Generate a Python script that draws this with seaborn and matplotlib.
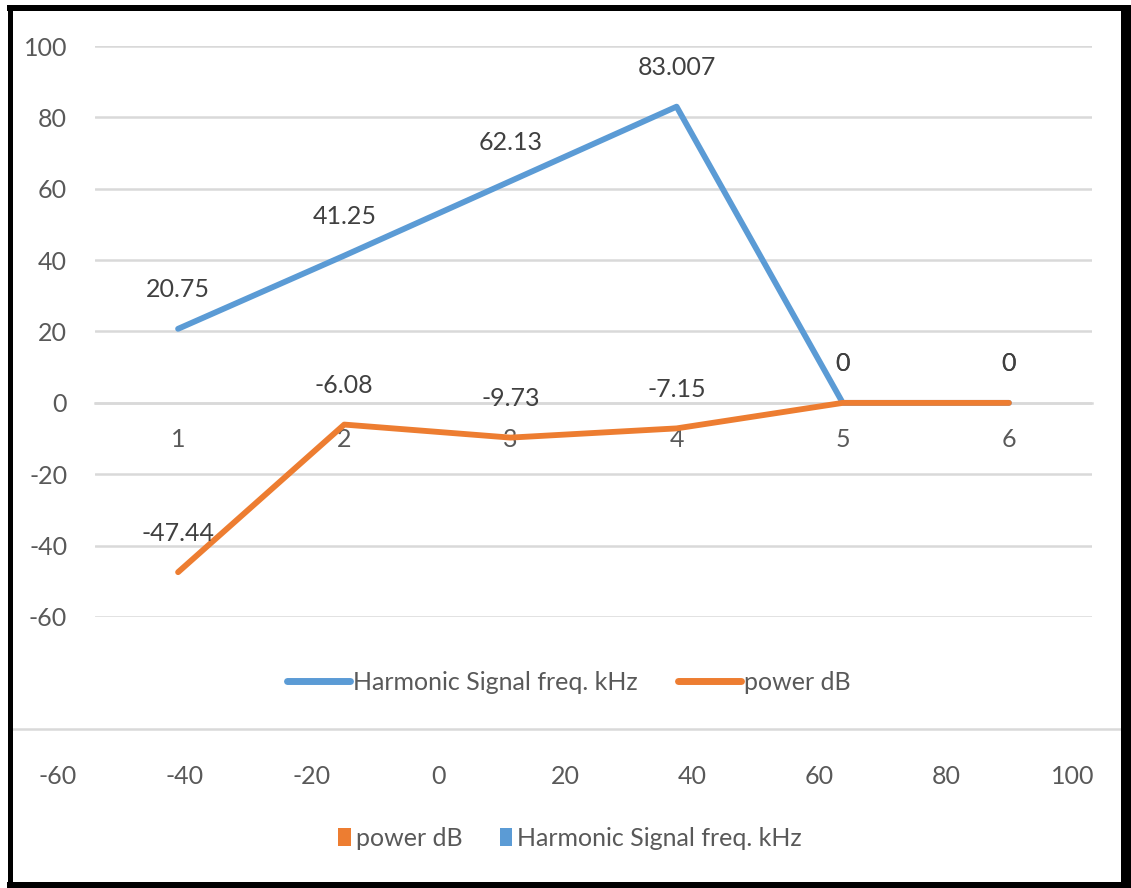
import matplotlib
matplotlib.use("Agg")
import matplotlib.pyplot as plt
from matplotlib.lines import Line2D
from matplotlib.patches import Patch
import seaborn as sns
import pandas as pd

# ---- data ----
categories = [1, 2, 3, 4, 5, 6]
harmonic_freq_khz = [20.75, 41.25, 62.13, 83.007, 0, 0]
power_db = [-47.44, -6.08, -9.73, -7.15, 0, 0]
harmonic_labels = ["20.75", "41.25", "62.13", "83.007", "0", "0"]
power_labels = ["-47.44", "-6.08", "-9.73", "-7.15", "0", "0"]
series_names = ["Harmonic Signal freq. kHz", "power dB"]
y_ticks = [-60, -40, -20, 0, 20, 40, 60, 80, 100]
bottom_ticks = [-60, -40, -20, 0, 20, 40, 60, 80, 100]

BLUE = "#5B9BD5"
ORANGE = "#ED7D31"
GRID = "#D9D9D9"
TXT = "#595959"
LBL = "#404040"

sns.set_theme(style="white")
plt.rcParams["font.family"] = ["Lato", "DejaVu Sans"]
plt.rcParams["axes.unicode_minus"] = False

W, H = 1131, 888
fig = plt.figure(figsize=(W / 100, H / 100), dpi=100)
fig.patch.set_facecolor("white")

def fx(px):
    return px / W

def fy(py):
    return 1 - py / H

# main axes: x 95..1092, y 46 (100) .. 617 (-60)
ax = fig.add_axes([fx(95), fy(617), fx(1092) - fx(95), fy(46) - fy(617)])
ax.set_facecolor("none")

df = pd.DataFrame({
    "cat": categories * 2,
    "value": harmonic_freq_khz + power_db,
    "series": [series_names[0]] * len(categories) + [series_names[1]] * len(categories),
})
sns.lineplot(data=df, x="cat", y="value", hue="series",
             palette={series_names[0]: BLUE, series_names[1]: ORANGE},
             linewidth=4.2, legend=False, ax=ax, zorder=3)
for l in ax.lines:
    l.set_solid_capstyle("round")
    l.set_solid_joinstyle("round")

ax.set_xlim(0.5, 6.5)
ax.set_ylim(-60, 100)
ax.set_yticks(y_ticks)
ax.set_yticklabels([str(t) for t in y_ticks])
ax.set_xticks(categories)
ax.set_xticklabels([str(c) for c in categories])
ax.set_xlabel("")
ax.set_ylabel("")
ax.grid(axis="y", color=GRID, linewidth=1.8)
ax.grid(axis="x", visible=False)
for s in ["top", "right", "left"]:
    ax.spines[s].set_visible(False)
ax.spines["bottom"].set_position(("data", 0))
ax.spines["bottom"].set_color(GRID)
ax.spines["bottom"].set_linewidth(1.8)
ax.tick_params(axis="y", length=0, pad=20, labelsize=18, labelcolor=TXT)
ax.tick_params(axis="x", length=0, pad=18, labelsize=18, labelcolor=TXT)

for x, v, t in zip(categories, harmonic_freq_khz, harmonic_labels):
    ax.annotate(t, (x, v), xytext=(0, 39), textcoords="offset pixels",
                ha="center", va="center", fontsize=18, color=LBL, zorder=4)
for x, v, t in zip(categories, power_db, power_labels):
    ax.annotate(t, (x, v), xytext=(0, 39), textcoords="offset pixels",
                ha="center", va="center", fontsize=18, color=LBL, zorder=4)

# top legend (line chart)
line_handles = [Line2D([0], [0], color=BLUE, lw=5, solid_capstyle="round"),
                Line2D([0], [0], color=ORANGE, lw=5, solid_capstyle="round")]
fig.legend(line_handles, series_names, loc="center",
           bbox_to_anchor=(fx(569), fy(682)), ncol=2, frameon=False,
           fontsize=18, handlelength=2.5, handletextpad=0.15,
           columnspacing=1.6, labelcolor=TXT)

# bottom strip axis: -60 at x=58, 100 at x=1073, line at y=729
ppu = (1073 - 58) / 160.0
xl = -60 - (58 - 12) / ppu
xr = 100 + (1121 - 1073) / ppu
ax2 = fig.add_axes([fx(12), fy(729), fx(1121) - fx(12), 0.0005])
ax2.set_facecolor("none")
ax2.set_xlim(xl, xr)
ax2.set_xticks(bottom_ticks)
ax2.set_xticklabels([str(t) for t in bottom_ticks])
ax2.set_yticks([])
for s in ["top", "right", "left"]:
    ax2.spines[s].set_visible(False)
ax2.spines["bottom"].set_color(GRID)
ax2.spines["bottom"].set_linewidth(1.8)
ax2.tick_params(axis="x", length=3, width=1, color=GRID, pad=23,
                labelsize=18, labelcolor=TXT, direction="out")

# bottom legend (square markers)
patch_handles = [Patch(facecolor=ORANGE, edgecolor="none"),
                 Patch(facecolor=BLUE, edgecolor="none")]
fig.legend(patch_handles, [series_names[1], series_names[0]], loc="center",
           bbox_to_anchor=(fx(570), fy(838)), ncol=2, frameon=False,
           fontsize=18, handlelength=0.5, handleheight=0.7, handletextpad=0.2,
           columnspacing=1.5, labelcolor=TXT)

# outer black frame
frame = [((fx(9.5), fx(9.5)), (fy(5), fy(888)), 5),
         ((fx(7), fx(1131)), (fy(8), fy(8)), 6),
         ((fx(1126), fx(1126)), (fy(5), fy(888)), 10),
         ((fx(7), fx(1131)), (fy(885), fy(885)), 6)]
for xs, ys, w in frame:
    fig.add_artist(Line2D(xs, ys, color="black", linewidth=w * 0.72,
                          transform=fig.transFigure, solid_capstyle="butt"))

fig.savefig("out.png", dpi=100, facecolor="white")
